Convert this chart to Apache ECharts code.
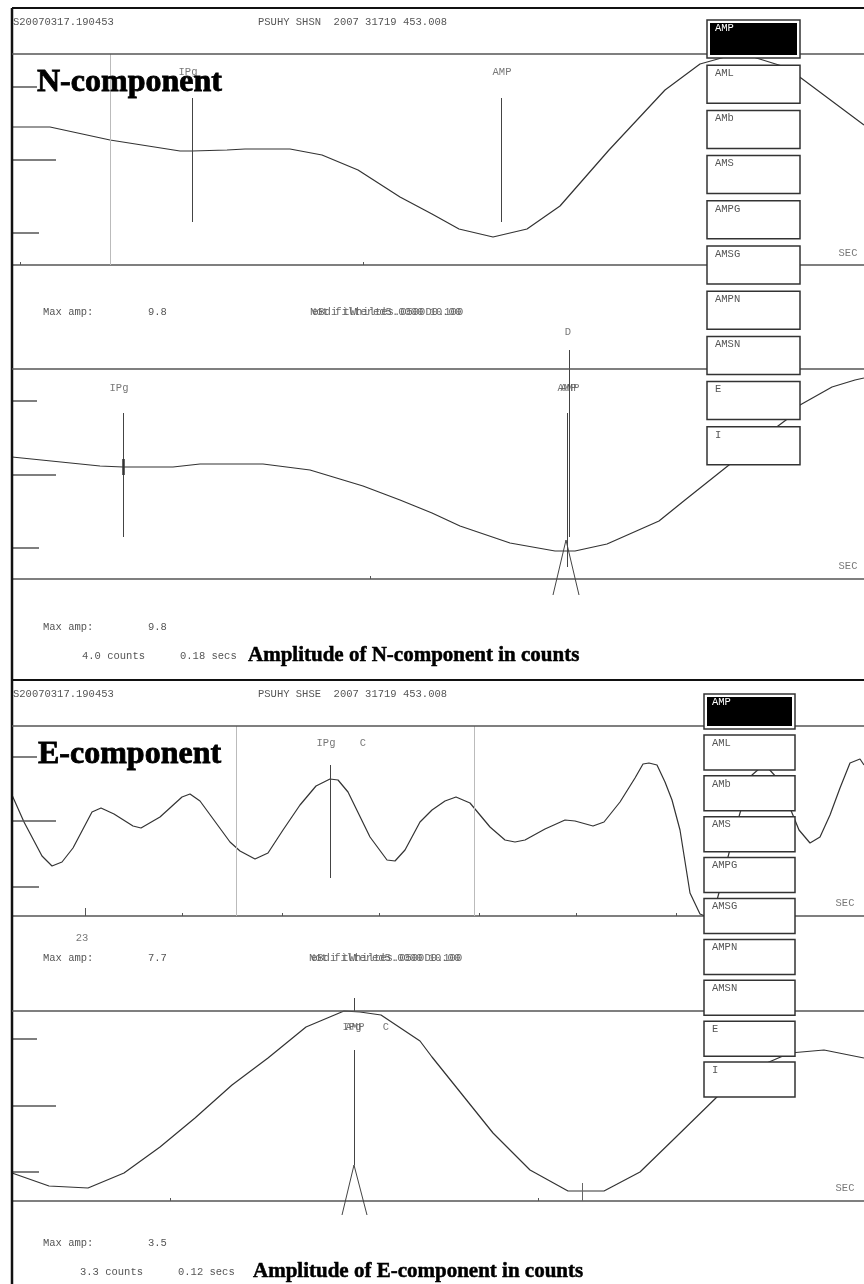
<!DOCTYPE html>
<html>
<head>
<meta charset="utf-8">
<script src="https://cdn.jsdelivr.net/npm/echarts@6/dist/echarts.min.js"></script>
<style>
  html, body { margin: 0; padding: 0; background: #fff; }
  #main { width: 864px; height: 1284px; }
</style>
</head>
<body>
<div id="main"></div>
<script>
// ---- data (sample index, amplitude) ----
// N-component, upper (wide) trace
var nTopTime = [0, 38, 98, 168, 180, 215, 233, 278, 310, 346, 388, 420, 447, 481, 515, 548, 597, 653, 688, 713, 738, 770, 785, 852];
var nTopAmp = [138, 138, 125, 114, 114, 115, 116, 116, 110, 95, 68, 51, 36, 28, 36, 59, 115, 175, 201, 208, 209, 199, 190, 140];
// N-component, lower (zoomed) trace
var nBotTime = [0, 88, 111, 161, 188, 251, 298, 351, 388, 420, 448, 498, 543, 563, 595, 647, 673, 722, 762, 778, 788, 820, 843, 852];
var nBotAmp = [122, 113, 112, 112, 115, 115, 109, 93, 79, 66, 53, 36, 28, 28, 35, 58, 79, 118, 150, 162, 174, 192, 199, 201];
// E-component, upper trace
var eTopTime = [0, 12, 30, 40, 50, 61, 80, 89, 102, 121, 129, 148, 170, 178, 188, 218, 228, 243, 256, 271, 288, 304, 318, 326, 336,
  358, 375, 383, 393, 408, 420, 433, 444, 458, 478, 493, 503, 513, 533, 553, 563, 581, 592, 608, 623, 631, 637, 645, 653, 660,
  668, 678, 688, 693, 705, 708, 717, 728, 740, 748, 756, 765, 778, 787, 798, 808, 818, 828, 838, 848, 852];
var eTopAmp = [121, 94, 60, 50, 54, 68, 104, 108, 102, 90, 88, 99, 119, 122, 115, 74, 65, 57, 63, 86, 111, 130, 137, 136, 124,
  79, 56, 55, 66, 94, 106, 115, 119, 113, 89, 76, 74, 76, 87, 96, 95, 90, 94, 114, 138, 152, 153, 151, 134, 116,
  86, 23, 2, 0, 16, 27, 63, 103, 141, 148, 148, 138, 108, 86, 73, 79, 101, 128, 153, 157, 151];
// E-component, lower (zoomed) trace
var eBotTime = [0, 37, 76, 112, 148, 183, 220, 256, 294, 332, 348, 369, 408, 420, 481, 518, 556, 592, 628, 663, 708, 750, 778, 812, 852];
var eBotAmp = [28, 15, 13, 28, 54, 83, 116, 143, 174, 190, 189, 186, 160, 144, 68, 31, 10, 10, 29, 63, 107, 136, 148, 151, 143];

// phase picks (sample index)
var nTopPicks = [180, 489];
var nBotPicks = [111, 556];
var eTopPicks = [318];
var eBotPicks = [342];
// time window markers
var nTopWindow = [98];
var eTopWindow = [224, 462];
// time ticks on the trace axes
var nTopTicks = [8, 351];
var nBotTicks = [358];
var eTopTicks = [73, 170, 270, 367, 467, 564, 664];
var eBotTicks = [158, 526];
// amplitude scale ticks
var nTopScale = [178, 105, 32];
var nBotScale = [178, 104, 31];
var eTopScale = [159, 95, 29];
var eBotScale = [162, 95, 29];

var menuLabels = ['AMP', 'AML', 'AMb', 'AMS', 'AMPG', 'AMSG', 'AMPN', 'AMSN', 'E', 'I'];

var MONO = '"Liberation Mono", "DejaVu Sans Mono", monospace';
var SERIF = '"Liberation Serif", "Times New Roman", serif';

var chartDom = document.getElementById('main');
var myChart = echarts.init(chartDom);
var option;

function zip(t, a) {
  return t.map(function (v, i) { return [v, a[i]]; });
}
function seg(t1, a1, t2, a2, color, width) {
  return [{ coord: [t1, a1], lineStyle: { color: color || '#444', width: width || 1 } }, { coord: [t2, a2] }];
}
function scaleTicks(arr) {
  // short-long-short marks at the left edge
  return arr.map(function (a, i) { return seg(0, a, i === 1 ? 44 : (i === 0 ? 25 : 27), a, '#555', 1.5); });
}
function timeTicks(arr, tall) {
  return arr.map(function (t) { return seg(t, 0, t, t === tall ? 8 : 3, '#555', 1); });
}

// trace boxes in pixels (top, bottom)
var traces = [
  { top: 54, bottom: 265 },
  { top: 369, bottom: 579 },
  { top: 726, bottom: 916 },
  { top: 1011, bottom: 1201 }
];

var marks = [
  // N top
  {
    labels: [['IPg', 176, 193], ['AMP', 490, 193], ['SEC', 836, 12]],
    lines: [].concat(
      nTopWindow.map(function (t) { return seg(t, 0, t, 211, '#bbb', 1); }),
      nTopPicks.map(function (t) { return seg(t, 43, t, 167); }),
      scaleTicks(nTopScale),
      timeTicks(nTopTicks)
    )
  },
  // N bottom
  {
    labels: [['IPg', 107, 191], ['D', 556, 247], ['AMP', 555, 191], ['AMP', 558, 191], ['SEC', 836, 13]],
    lines: [].concat(
      [seg(nBotPicks[0], 166, nBotPicks[0], 42), seg(nBotPicks[0], 120, nBotPicks[0], 104, '#333', 2.5)],
      [seg(nBotPicks[1] + 1, 229, nBotPicks[1] + 1, 42), seg(nBotPicks[1] - 1, 166, nBotPicks[1] - 1, 12),
        seg(nBotPicks[1] - 2, 39, nBotPicks[1] - 15, -16), seg(nBotPicks[1] - 2, 39, nBotPicks[1] + 11, -16)],
      scaleTicks(nBotScale),
      timeTicks(nBotTicks)
    )
  },
  // E top
  {
    labels: [['IPg', 314, 173], ['C', 351, 173], ['23', 70, -22], ['SEC', 833, 13]],
    lines: [].concat(
      eTopWindow.map(function (t) { return seg(t, 0, t, 190, '#bbb', 1); }),
      eTopPicks.map(function (t) { return seg(t, 151, t, 38); }),
      scaleTicks(eTopScale),
      timeTicks(eTopTicks, 73)
    )
  },
  // E bottom
  {
    labels: [['IPg', 340, 174], ['AMP', 343, 174], ['C', 374, 174], ['SEC', 833, 13]],
    lines: [].concat(
      [seg(eBotPicks[0], 203, eBotPicks[0], 190), seg(eBotPicks[0], 151, eBotPicks[0], 36),
        seg(eBotPicks[0], 36, eBotPicks[0] - 12, -14), seg(eBotPicks[0], 36, eBotPicks[0] + 13, -14),
        seg(570, 18, 570, 0, '#666', 1)],
      scaleTicks(eBotScale),
      timeTicks(eBotTicks)
    )
  }
];

var waves = [zip(nTopTime, nTopAmp), zip(nBotTime, nBotAmp), zip(eTopTime, eTopAmp), zip(eBotTime, eBotAmp)];

var grids = [], xAxes = [], yAxes = [], series = [];
traces.forEach(function (tr, i) {
  var h = tr.bottom - tr.top;
  grids.push({ left: 12, width: 852, top: tr.top - 50, height: h + 90, show: false });
  xAxes.push({
    gridIndex: i, type: 'value', min: 0, max: 852,
    axisLine: { onZero: true, lineStyle: { color: '#555', width: 1.5 } },
    axisTick: { show: false }, axisLabel: { show: false }, splitLine: { show: false }
  });
  yAxes.push({ gridIndex: i, type: 'value', min: -40, max: h + 50, show: false, splitLine: { show: false } });
  series.push({
    type: 'line', xAxisIndex: i, yAxisIndex: i, data: waves[i],
    showSymbol: false, symbol: 'none', silent: true,
    lineStyle: { color: '#333', width: 1.2 }
  });
  series.push({
    type: 'scatter', xAxisIndex: i, yAxisIndex: i, clip: false, silent: true,
    symbolSize: 0,
    data: marks[i].labels.map(function (l) { return { name: l[0], value: [l[1], l[2]] }; }),
    label: { show: true, position: 'inside', formatter: '{b}', fontFamily: MONO, fontSize: 10.5, color: '#555' },
    markLine: {
      silent: true, symbol: ['none', 'none'], animation: false,
      label: { show: false },
      lineStyle: { type: 'solid', color: '#444', width: 1 },
      data: marks[i].lines
    }
  });
});

// ---- screen decoration ----
var MONO_TXT = { fontSize: 10.5, fontFamily: MONO };
var TITLE_TXT = { fontSize: 32, fontFamily: SERIF, fontWeight: 'bold', stroke: 0.8 };
var CAPTION_TXT = { fontSize: 21, fontFamily: SERIF, fontWeight: 'bold', stroke: 0.5 };

function txt(x, y, s, f, color, z) {
  var style = { text: s, fontSize: f.fontSize, fontFamily: f.fontFamily, fontWeight: f.fontWeight || 'normal',
    fill: color || '#555', verticalAlign: 'middle' };
  if (f.stroke) {
    // heavier strokes, like the bold serif of the screenshot
    style.stroke = color;
    style.lineWidth = f.stroke;
  }
  return { type: 'text', x: x, y: y, z: z || 100, silent: true, style: style };
}
function hline(y, x1, x2, color, w) {
  return { type: 'line', z: 50, silent: true, shape: { x1: x1, y1: y, x2: x2, y2: y }, style: { stroke: color, lineWidth: w } };
}
function menu(x, top0, step, w, h) {
  var els = [];
  menuLabels.forEach(function (lab, i) {
    var y = top0 + i * step;
    els.push({ type: 'rect', z: 100, silent: true, shape: { x: x, y: y, width: w, height: h },
      style: { fill: '#fff', stroke: '#333', lineWidth: 1.5 } });
    if (i === 0) {
      els.push({ type: 'rect', z: 101, silent: true, shape: { x: x + 3, y: y + 3, width: w - 6, height: h - 6 },
        style: { fill: '#000' } });
    }
    els.push(txt(x + 8, y + 8, lab, MONO_TXT, i === 0 ? '#fff' : '#555', 102));
  });
  return els;
}

var graphics = [].concat(
  [
    hline(8, 12, 864, '#111', 2),
    hline(680, 12, 864, '#111', 2),
    { type: 'line', z: 50, silent: true, shape: { x1: 12, y1: 8, x2: 12, y2: 1284 }, style: { stroke: '#111', lineWidth: 2.5 } },
    hline(54, 12, 864, '#555', 1.5),
    hline(369, 12, 864, '#555', 1.5),
    hline(726, 12, 864, '#555', 1.5),
    hline(1011, 12, 864, '#555', 1.5),

    txt(13, 22, 'S20070317.190453', MONO_TXT),
    txt(258, 22, 'PSUHY SHSN  2007 31719 453.008', MONO_TXT),
    txt(37, 83, 'N-component', TITLE_TXT, '#000', 103),
    txt(43, 312, 'Max amp:', MONO_TXT),
    txt(148, 312, '9.8', MONO_TXT),
    txt(310, 312, 'Not filtered5.0000 10.00', MONO_TXT, '#666'),
    txt(312, 312, 'eBdi tWhiltes.0500D0.100', MONO_TXT, '#666'),
    txt(43, 627, 'Max amp:', MONO_TXT),
    txt(148, 627, '9.8', MONO_TXT),
    txt(82, 656, '4.0 counts', MONO_TXT),
    txt(180, 656, '0.18 secs', MONO_TXT),
    txt(248, 656, 'Amplitude of N-component in counts', CAPTION_TXT, '#000'),

    txt(13, 694, 'S20070317.190453', MONO_TXT),
    txt(258, 694, 'PSUHY SHSE  2007 31719 453.008', MONO_TXT),
    txt(38, 755, 'E-component', TITLE_TXT, '#000', 103),
    txt(43, 958, 'Max amp:', MONO_TXT),
    txt(148, 958, '7.7', MONO_TXT),
    txt(309, 958, 'Not filtered5.0000 10.00', MONO_TXT, '#666'),
    txt(311, 958, 'eBdi tWhiltes.0500D0.100', MONO_TXT, '#666'),
    txt(43, 1243, 'Max amp:', MONO_TXT),
    txt(148, 1243, '3.5', MONO_TXT),
    txt(80, 1272, '3.3 counts', MONO_TXT),
    txt(178, 1272, '0.12 secs', MONO_TXT),
    txt(253, 1272, 'Amplitude of E-component in counts', CAPTION_TXT, '#000')
  ],
  menu(707, 20, 45.2, 93, 38),
  menu(704, 694, 40.9, 91, 35)
);

option = {
  animation: false,
  backgroundColor: '#fff',
  grid: grids,
  xAxis: xAxes,
  yAxis: yAxes,
  series: series,
  graphic: graphics
};

option && myChart.setOption(option);
</script>
</body>
</html>
